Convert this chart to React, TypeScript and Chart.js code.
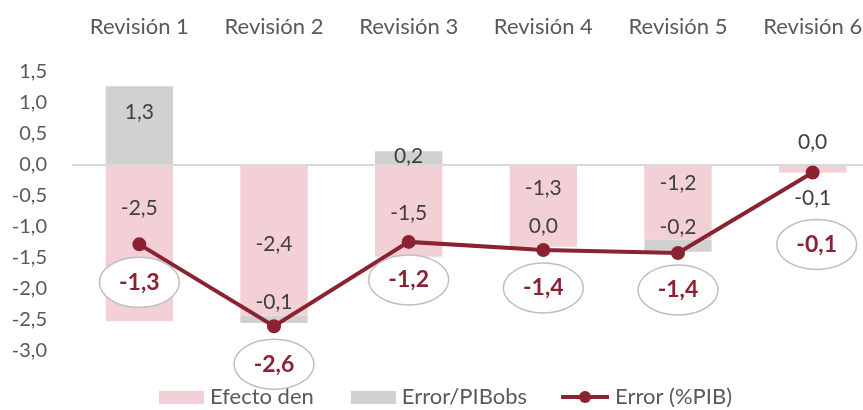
import React, { useEffect, useRef } from 'react';
import { Chart, registerables } from 'chart.js';

Chart.register(...registerables);

// ---- data ----
const categories = ['Revisión 1', 'Revisión 2', 'Revisión 3', 'Revisión 4', 'Revisión 5', 'Revisión 6'];
const efectoDen = [-2.52, -2.43, -1.48, -1.32, -1.2, -0.12];
const errorPIBobs = [1.27, -0.12, 0.22, 0.0, -0.2, 0.0];
const errorPIB = [-1.28, -2.6, -1.24, -1.37, -1.42, -0.12];
const seriesNames = ['Efecto den', 'Error/PIBobs', 'Error (%PIB)'];
const yMin = -3.0;
const yMax = 1.5;
const yStep = 0.5;

// ---- styles ----
const FONT = 'Lato, "Open Sans", sans-serif';
const PINK = '#F2D0D5';
const GREY = '#D0D1D0';
const RED = '#8B2232';
const AXIS_TEXT = '#595959';
const LABEL_TEXT = '#404040';

const fmt = (v: number) => {
  const s = (Math.round(v * 10) / 10).toFixed(1).replace('.', ',');
  return s === '-0,0' ? '0,0' : s;
};

const labelPlugin = {
  id: 'valueLabels',
  afterDatasetsDraw(chart: any, _args: any, opts: any) {
    const ctx = chart.ctx as CanvasRenderingContext2D;
    ctx.save();
    chart.data.datasets.forEach((ds: any, di: number) => {
      const meta = chart.getDatasetMeta(di);
      meta.data.forEach((el: any, i: number) => {
        const v = ds.data[i] as number;
        if (ds.type === 'line') {
          const cx = el.x + (opts.ellipseDx[i] || 0);
          const cy = el.y + opts.ellipseDy[i];
          ctx.beginPath();
          ctx.ellipse(cx, cy, 40, 25, 0, 0, Math.PI * 2);
          ctx.fillStyle = '#ffffff';
          ctx.fill();
          ctx.lineWidth = 1.5;
          ctx.strokeStyle = '#BFBFBF';
          ctx.stroke();
          ctx.fillStyle = RED;
          ctx.font = `bold 23px ${FONT}`;
          ctx.textAlign = 'center';
          ctx.textBaseline = 'middle';
          ctx.fillText(fmt(v), cx, cy);
        } else {
          const p = el.getProps(['x', 'y', 'base'], true);
          const cy = (p.y + p.base) / 2 + opts.barDy[di][i];
          ctx.fillStyle = LABEL_TEXT;
          ctx.font = `21px ${FONT}`;
          ctx.textAlign = 'center';
          ctx.textBaseline = 'middle';
          ctx.fillText(fmt(v), p.x, cy);
        }
      });
    });
    ctx.restore();
  },
};

// legend icons (box sits at the right part of the icon, leaving a gap before it)
function makeBoxIcon(color: string) {
  const c = document.createElement('canvas');
  c.width = 67;
  c.height = 13;
  const g = c.getContext('2d')!;
  g.fillStyle = color;
  g.fillRect(22, 0, 45, 13);
  return c;
}

function makeLineIcon() {
  const c = document.createElement('canvas');
  c.width = 67;
  c.height = 14;
  const g = c.getContext('2d')!;
  g.strokeStyle = RED;
  g.lineWidth = 4;
  g.beginPath();
  g.moveTo(19, 7);
  g.lineTo(67, 7);
  g.stroke();
  g.fillStyle = RED;
  g.beginPath();
  g.arc(43, 7, 6, 0, Math.PI * 2);
  g.fill();
  return c;
}

export default function App() {
  const ref = useRef<HTMLCanvasElement | null>(null);

  useEffect(() => {
    if (!ref.current) return;
    const icons = [makeBoxIcon(PINK), makeBoxIcon(GREY), makeLineIcon()];
    const chart = new Chart(ref.current, {
      type: 'bar',
      data: {
        labels: categories,
        datasets: [
          {
            type: 'bar',
            label: seriesNames[0],
            data: efectoDen,
            backgroundColor: PINK,
            borderWidth: 0,
            order: 1,
          } as any,
          {
            type: 'bar',
            label: seriesNames[1],
            data: errorPIBobs,
            backgroundColor: GREY,
            borderWidth: 0,
            order: 1,
          } as any,
          {
            type: 'line',
            label: seriesNames[2],
            data: errorPIB,
            borderColor: RED,
            backgroundColor: RED,
            borderWidth: 4,
            pointRadius: 5,
            pointHoverRadius: 5,
            pointBackgroundColor: RED,
            pointBorderColor: RED,
            tension: 0,
            order: 0,
          } as any,
        ],
      },
      plugins: [labelPlugin],
      options: {
        responsive: false,
        animation: false,
        devicePixelRatio: 1,
        datasets: { bar: { barPercentage: 0.5, categoryPercentage: 1 } } as any,
        layout: { padding: { top: 0, left: -6, right: 20, bottom: 0 } },
        scales: {
          x: {
            position: 'top',
            stacked: true,
            offset: true,
            grid: { display: false, drawTicks: false },
            border: { display: false },
            ticks: {
              color: AXIS_TEXT,
              font: { family: FONT, size: 22 },
              padding: 32,
              autoSkip: false,
              maxRotation: 0,
              minRotation: 0,
            },
            afterFit: (s: any) => {
              s.height = 72;
            },
          },
          y: {
            stacked: true,
            min: yMin,
            max: yMax,
            grid: {
              drawTicks: false,
              lineWidth: 2,
              color: (c: any) => (c.tick && Math.abs(c.tick.value) < 1e-9 ? '#D9D9D9' : 'rgba(0,0,0,0)'),
            },
            border: { display: false },
            ticks: {
              stepSize: yStep,
              color: AXIS_TEXT,
              font: { family: FONT, size: 20 },
              padding: 25,
              callback: (v: any) => fmt(Number(v)),
            },
            afterFit: (s: any) => {
              s.width = 78;
            },
          },
        },
        plugins: {
          tooltip: { enabled: false },
          valueLabels: {
            barDy: [
              [-35, 3, 2, -18, -19, 29],
              [-13, -17, -1, -21, -18, -30],
            ],
            ellipseDy: [38, 38, 38, 38, 37, 72],
            ellipseDx: [0, 0, 0, 0, 0, 4],
          },
          legend: {
            position: 'bottom',
            title: { display: true, text: '', font: { size: 15, lineHeight: 1 }, padding: 0 },
            labels: {
              usePointStyle: true,
              pointStyleWidth: 57,
              boxHeight: 13,
              padding: 20,
              color: AXIS_TEXT,
              font: { family: FONT, size: 22 },
              generateLabels: (ch: any) =>
                ch.data.datasets.map((ds: any, i: number) => ({
                  text: ds.label,
                  fillStyle: ds.type === 'line' ? ds.borderColor : ds.backgroundColor,
                  strokeStyle: 'rgba(0,0,0,0)',
                  lineWidth: 0,
                  pointStyle: icons[i],
                  hidden: false,
                  datasetIndex: i,
                  fontColor: AXIS_TEXT,
                })),
            },
          },
        } as any,
      },
    });
    return () => chart.destroy();
  }, []);

  return (
    <div
      style={{
        position: 'fixed',
        left: 0,
        top: 0,
        width: 863,
        height: 410,
        overflow: 'hidden',
        background: '#ffffff',
      }}
    >
      <canvas ref={ref} width={900} height={418} style={{ display: 'block' }} />
    </div>
  );
}
